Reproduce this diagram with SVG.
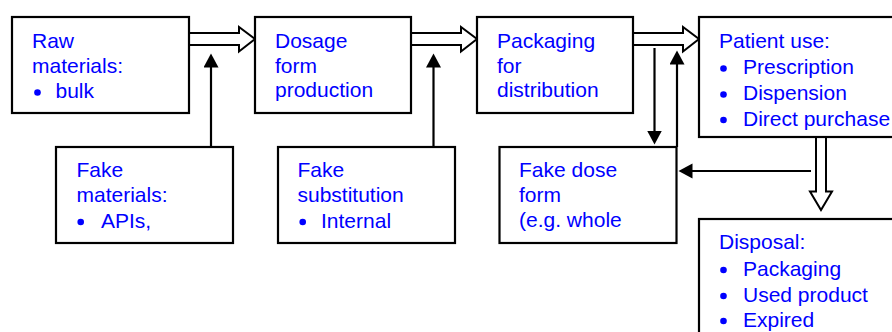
<svg xmlns="http://www.w3.org/2000/svg" width="892" height="332" viewBox="0 0 892 332">
<defs>
<style>
.box{fill:#fff;stroke:#000;stroke-width:2.2}
.t{font-family:"Liberation Sans",Arial,sans-serif;font-size:21px;fill:#0000ff}
.b{fill:#0000ff}
.hollow{fill:#fff;stroke:#000;stroke-width:2;stroke-linejoin:miter}
.ln{stroke:#000;stroke-width:2.2;fill:none}
</style>
<marker id="ah" markerUnits="userSpaceOnUse" markerWidth="15" markerHeight="16" refX="0.5" refY="7.5" orient="auto">
<path d="M0,0 L14,7.5 L0,15 z" fill="#000"/>
</marker>
</defs>
<rect width="892" height="332" fill="#fff"/>

<g id="connectors">
<path class="hollow" d="M189,33 H239 V27 L255,39 L239,51.5 V45 H189"/>
<path class="hollow" d="M411,33 H461 V27 L477,39 L461,51.5 V45 H411"/>
<path class="hollow" d="M633,33 H683 V27 L699,39 L683,51.5 V45 H633"/>
<path class="hollow" d="M816,137 V191.5 H810 L821,210 L832,191.5 H826 V137"/>
<line class="ln" x1="211" y1="147" x2="211" y2="67" marker-end="url(#ah)"/>
<line class="ln" x1="433.5" y1="147" x2="433.5" y2="67" marker-end="url(#ah)"/>
<line class="ln" x1="654.5" y1="48" x2="654.5" y2="131" marker-end="url(#ah)"/>
<line class="ln" x1="677" y1="147" x2="677" y2="64" marker-end="url(#ah)"/>
<line class="ln" x1="811" y1="171" x2="692" y2="171" marker-end="url(#ah)"/>
</g>

<g id="raw-materials">
<rect class="box" x="12" y="17" width="177" height="96"/>
<text class="t" x="32" y="48">Raw</text>
<text class="t" x="32" y="72.5">materials:</text>
<circle class="b" cx="37.5" cy="92.5" r="3.3"/>
<text class="t" x="55.5" y="98">bulk</text>
</g>

<g id="dosage-form">
<rect class="box" x="255" y="17" width="156" height="96"/>
<text class="t" x="275" y="48">Dosage</text>
<text class="t" x="275" y="72.5">form</text>
<text class="t" x="275" y="97">production</text>
</g>

<g id="packaging">
<rect class="box" x="477" y="17" width="156" height="96"/>
<text class="t" x="497" y="48">Packaging</text>
<text class="t" x="497" y="72.5">for</text>
<text class="t" x="497" y="97">distribution</text>
</g>

<g id="patient-use">
<rect class="box" x="699" y="17" width="200" height="120"/>
<text class="t" x="719" y="48">Patient use:</text>
<circle class="b" cx="723.5" cy="68.5" r="3.3"/>
<text class="t" x="743" y="74">Prescription</text>
<circle class="b" cx="723.5" cy="94.5" r="3.3"/>
<text class="t" x="743" y="100">Dispension</text>
<circle class="b" cx="723.5" cy="120" r="3.3"/>
<text class="t" x="743" y="125.5">Direct purchase</text>
</g>

<g id="fake-materials">
<rect class="box" x="56" y="147" width="177" height="96"/>
<text class="t" x="76.5" y="176.5">Fake</text>
<text class="t" x="76.5" y="201.5">materials:</text>
<circle class="b" cx="80.7" cy="222" r="3.3"/>
<text class="t" x="101" y="227.5">APIs,</text>
</g>

<g id="fake-substitution">
<rect class="box" x="278" y="147" width="177" height="96"/>
<text class="t" x="297.5" y="176.5">Fake</text>
<text class="t" x="297.5" y="201.5">substitution</text>
<circle class="b" cx="302.7" cy="222" r="3.3"/>
<text class="t" x="321" y="227.5">Internal</text>
</g>

<g id="fake-dose-form">
<rect class="box" x="499.5" y="147" width="177" height="96"/>
<text class="t" x="519" y="176.5">Fake dose</text>
<text class="t" x="519" y="201.5">form</text>
<text class="t" x="519" y="226.5">(e.g. whole</text>
</g>

<g id="disposal">
<rect class="box" x="699" y="219" width="200" height="130"/>
<text class="t" x="719" y="249">Disposal:</text>
<circle class="b" cx="723.5" cy="270" r="3.3"/>
<text class="t" x="743" y="275.5">Packaging</text>
<circle class="b" cx="723.5" cy="296" r="3.3"/>
<text class="t" x="743" y="301.5">Used product</text>
<circle class="b" cx="723.5" cy="321" r="3.3"/>
<text class="t" x="743" y="326.5">Expired</text>
</g>
</svg>
